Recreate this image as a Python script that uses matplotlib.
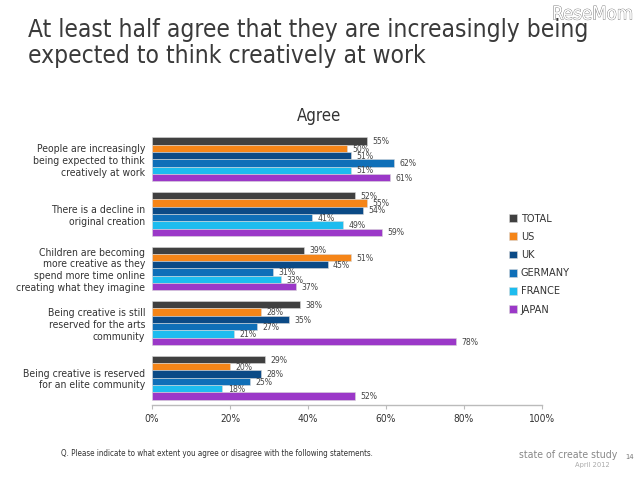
#!/usr/bin/env python3
import numpy as np
import matplotlib
matplotlib.use('Agg')
import matplotlib.pyplot as plt
import matplotlib.patheffects as pe

categories = [
    "People are increasingly\nbeing expected to think\ncreatively at work",
    "There is a decline in\noriginal creation",
    "Children are becoming\nmore creative as they\nspend more time online\ncreating what they imagine",
    "Being creative is still\nreserved for the arts\ncommunity",
    "Being creative is reserved\nfor an elite community",
]
series_names = ["TOTAL", "US", "UK", "GERMANY", "FRANCE", "JAPAN"]
colors = ["#404040", "#f58518", "#0b4a86", "#0f6fb8", "#1dbcef", "#9b38c8"]
total = [55, 52, 39, 38, 29]
us = [50, 55, 51, 28, 20]
uk = [51, 54, 45, 35, 28]
germany = [62, 41, 31, 27, 25]
france = [51, 49, 33, 21, 18]
japan = [61, 59, 37, 78, 52]
ticks = [0, 20, 40, 60, 80, 100]

plt.rcParams['font.family'] = 'DejaVu Sans'
plt.rcParams['font.stretch'] = 'condensed'
text_color = "#333333"

fig = plt.figure(figsize=(6.4, 4.8), dpi=100)
ax = fig.add_axes([152 / 640, 1 - 405 / 480, 390 / 640, 273 / 480])

y = np.arange(len(categories))
bar_h = 0.134
all_values = [total, us, uk, germany, france, japan]
for i, values in enumerate(all_values):
    pos = y + (i - 2.5) * bar_h
    ax.barh(pos, values, height=bar_h, color=colors[i], label=series_names[i],
            edgecolor='#d8d8d8', linewidth=0.4, zorder=2)
    for p, v in zip(pos, values):
        ax.annotate("{}%".format(v), (v, p), xytext=(4, -0.5), textcoords='offset points',
                    va='center', ha='left', fontsize=6.2, color='#444444', zorder=3)

ax.set_xlim(0, 100)
ax.set_ylim(len(categories) - 0.5, -0.5)
ax.set_xticks(ticks)
ax.set_xticklabels(["{}%".format(t) for t in ticks], fontsize=7.3, color=text_color)
ax.set_yticks(y)
ax.set_yticklabels(categories, fontsize=7.5, color=text_color, linespacing=1.22)
ax.tick_params(axis='y', length=0, pad=5)
ax.tick_params(axis='x', length=3, width=0.8, color='#bbbbbb', pad=3.5)
for side in ['top', 'right', 'left']:
    ax.spines[side].set_visible(False)
ax.spines['bottom'].set_color('#bbbbbb')
ax.spines['bottom'].set_linewidth(1)

ax.legend(loc='upper left', bbox_to_anchor=(509 / 640, 1 - 214 / 480),
          bbox_transform=fig.transFigure, frameon=False, fontsize=7.8,
          handlelength=0.75, handleheight=0.75, handletextpad=0.35,
          labelspacing=0.75, borderpad=0, borderaxespad=0, labelcolor=text_color)

fig.text(28 / 640, 1 - 30 / 480, "At least half agree that they are increasingly being",
         fontsize=17.6, color='#3a3a3a', va='center', ha='left')
fig.text(28 / 640, 1 - 56 / 480, "expected to think creatively at work",
         fontsize=17.6, color='#3a3a3a', va='center', ha='left')
fig.text(319 / 640, 1 - 116 / 480, "Agree", fontsize=12, color=text_color, va='center', ha='center')
fig.text(61 / 640, 1 - 454 / 480,
         "Q. Please indicate to what extent you agree or disagree with the following statements.",
         fontsize=5.8, color=text_color, va='center', ha='left')
fig.text(519 / 640, 1 - 455 / 480, "state of create study", fontsize=7.6, color='#888888',
         va='center', ha='left')
fig.text(610 / 640, 1 - 465 / 480, "April 2012", fontsize=5.4, color='#aaaaaa', va='center', ha='right')
fig.text(625 / 640, 1 - 457 / 480, "14", fontsize=5.4, color='#777777', va='center', ha='left')
wm = fig.text(552 / 640, 1 - 14 / 480, "ReseMom", fontsize=13.4, color='white', va='center', ha='left')
wm.set_path_effects([pe.withStroke(linewidth=0.6, foreground='#777777')])

fig.savefig('out.png', dpi=100)
